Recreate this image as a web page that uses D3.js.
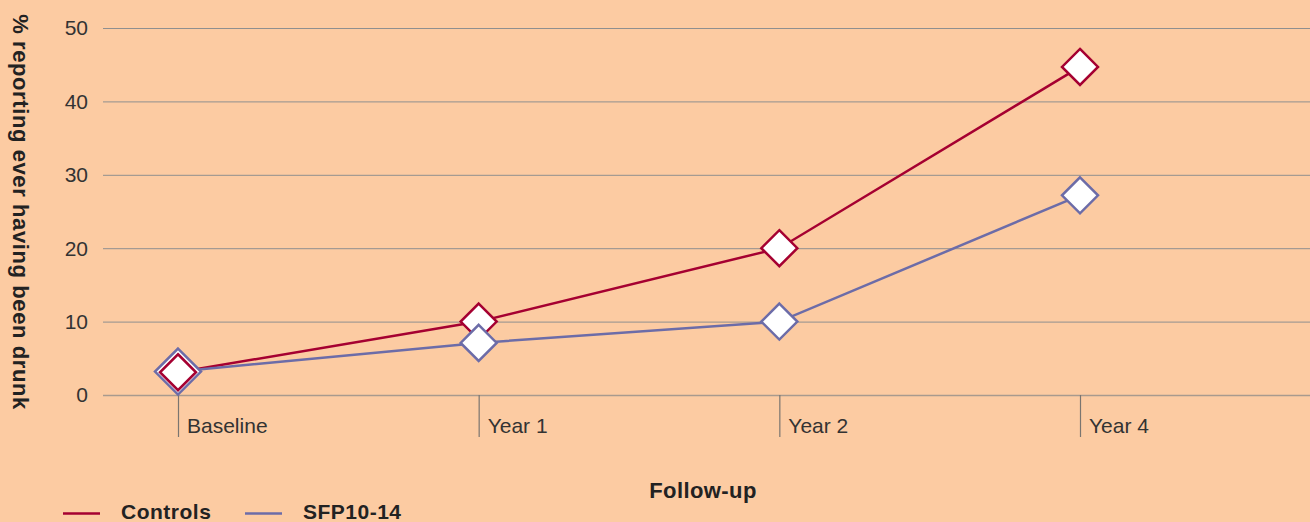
<!DOCTYPE html>
<html>
<head>
<meta charset="utf-8">
<script src="https://cdn.jsdelivr.net/npm/d3@7"></script>
<style>
  body { margin: 0; background: #fccba2; }
  svg { display: block; font-family: "Liberation Sans", Arial, sans-serif; }
</style>
</head>
<body>
<svg width="1310" height="522"></svg>
<script>
// data
const categories = ["Baseline", "Year 1", "Year 2", "Year 4"];
const controls = [3.1, 10, 20, 44.7];
const sfp = [3.2, 7.1, 10, 27.2];
const yTicks = [0, 10, 20, 30, 40, 50];

const series = [
  { name: "Controls", values: controls, color: "#a50031" },
  { name: "SFP10-14", values: sfp, color: "#6c6ca8" }
];

const svg = d3.select("svg");
const width = +svg.attr("width");
const height = +svg.attr("height");

svg.append("rect").attr("width", width).attr("height", height).attr("fill", "#fccba2");

const margin = { left: 103, top: 28, bottom: 127 };
const innerBottom = height - margin.bottom; // y of 0

const x = d3.scalePoint()
  .domain(categories)
  .range([178, 1080]);

const y = d3.scaleLinear()
  .domain([0, 50])
  .range([innerBottom, margin.top]);

// horizontal grid
const grid = svg.append("g");
grid.selectAll("line")
  .data(yTicks)
  .join("line")
    .attr("x1", margin.left)
    .attr("x2", width)
    .attr("y1", d => y(d) + 0.5)
    .attr("y2", d => y(d) + 0.5)
    .attr("stroke", d => d === 0 ? "#a89a8e" : "#8f8f8f")
    .attr("stroke-width", d => d === 0 ? 1.5 : 1);

// y tick labels
svg.append("g").selectAll("text")
  .data(yTicks)
  .join("text")
    .attr("x", 88)
    .attr("y", d => y(d))
    .attr("dy", "0.35em")
    .attr("text-anchor", "end")
    .attr("fill", "#333")
    .attr("font-size", 21)
    .text(d => d);

// x ticks + labels
const xt = svg.append("g").selectAll("g")
  .data(categories)
  .join("g")
    .attr("transform", d => `translate(${x(d)},0)`);
xt.append("line")
  .attr("x1", 0.5).attr("x2", 0.5)
  .attr("y1", innerBottom).attr("y2", innerBottom + 42)
  .attr("stroke", "#7a7570")
  .attr("stroke-width", 1.2);
xt.append("text")
  .attr("x", 9)
  .attr("y", innerBottom + 38)
  .attr("fill", "#333")
  .attr("font-size", 21)
  .text(d => d);

// axis titles
svg.append("text")
  .attr("transform", `translate(13, 212) rotate(90)`)
  .attr("text-anchor", "middle")
  .attr("fill", "#222")
  .attr("font-size", 22)
  .attr("font-weight", "bold")
  .attr("letter-spacing", 0.6)
  .text("% reporting ever having been drunk");

svg.append("text")
  .attr("x", 703)
  .attr("y", 498)
  .attr("text-anchor", "middle")
  .attr("fill", "#222")
  .attr("font-size", 22)
  .attr("font-weight", "bold")
  .attr("letter-spacing", 0.4)
  .text("Follow-up");

// lines
const line = d3.line()
  .x((d, i) => x(categories[i]))
  .y(d => y(d));

series.forEach(s => {
  svg.append("path")
    .datum(s.values)
    .attr("fill", "none")
    .attr("stroke", s.color)
    .attr("stroke-width", 2.5)
    .attr("d", line);
});

// markers: SFP first at baseline so the red one sits on top there
const diamond = r => `M0,${-r}L${r},0L0,${r}L${-r},0Z`;
const marks = [];
series.forEach(s => s.values.forEach((v, i) => marks.push({ s, v, i })));
marks.sort((a, b) => {
  if (a.i === 0 && b.i === 0) return a.s.name === "SFP10-14" ? -1 : 1;
  return a.s.name === "Controls" ? -1 : 1;
});
svg.append("g").selectAll("path")
  .data(marks)
  .join("path")
    .attr("transform", d => `translate(${x(categories[d.i])},${y(d.v)})`)
    .attr("d", d => diamond(d.i === 0 && d.s.name === "SFP10-14" ? 23 : 18))
    .attr("fill", "#fff")
    .attr("stroke", d => d.s.color)
    .attr("stroke-width", 2.5);

// legend
const lg = svg.append("g").selectAll("g")
  .data(series)
  .join("g")
    .attr("transform", (d, i) => `translate(${63 + i * 182},513)`);
lg.append("line")
  .attr("x1", 0).attr("x2", 37)
  .attr("y1", 0.5).attr("y2", 0.5)
  .attr("stroke", d => d.color)
  .attr("stroke-width", 2.5);
lg.append("text")
  .attr("x", 58)
  .attr("y", 6)
  .attr("fill", "#222")
  .attr("font-size", 21)
  .attr("font-weight", "bold")
  .attr("letter-spacing", 0.5)
  .text(d => d.name);
</script>
</body>
</html>
